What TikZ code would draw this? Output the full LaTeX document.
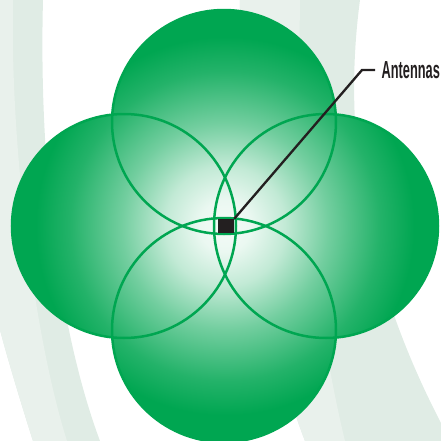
\documentclass[tikz,border=0pt]{standalone}
\usepackage{fontspec}
\setmainfont{Liberation Sans}
\newfontfamily\tagfont[FakeStretch=0.52]{Liberation Sans}
\usetikzlibrary{positioning}

\definecolor{cellgreen}{RGB}{0,166,81}
\definecolor{bandlight}{RGB}{233,241,236}
\definecolor{banddark}{RGB}{224,236,229}
\definecolor{antblack}{RGB}{35,31,32}

\pgfdeclareradialshading{cellglow}{\pgfpoint{0bp}{0bp}}{color(0bp)=(cellgreen!4); color(3bp)=(cellgreen!8); color(7bp)=(cellgreen!24); color(12bp)=(cellgreen!55); color(18bp)=(cellgreen!86); color(22bp)=(cellgreen); color(50bp)=(cellgreen)}

\begin{document}
\begin{tikzpicture}[
        x=0.03cm, y=-0.03cm,
        cell/.style={draw=cellgreen, line width=0.075cm},
        antenna/.style={rectangle, fill=antblack, inner sep=0pt, minimum width=0.48cm, minimum height=0.42cm},
        leader/.style={draw=antblack, line width=0.07cm},
        tag/.style={inner ysep=0pt, inner xsep=0.2cm, outer sep=0pt, font=\tagfont\bfseries\fontsize{21pt}{23pt}\selectfont, text=antblack}
    ]
    \useasboundingbox (0,0) rectangle (441,441);

    % Background bands
    \fill[banddark] (0,0) -- (43,0) .. controls (39,150) and (55,320) .. (100,441) -- (33,441) .. controls (20,400) and (8,360) .. (0,330) -- cycle;
    \fill[bandlight] (0,0) -- (13,0) .. controls (10,150) and (35,340) .. (67,441) -- (33,441) .. controls (20,400) and (8,360) .. (0,330) -- cycle;
    \fill[banddark] (240,0) -- (360,0) .. controls (340,150) and (372,290) .. (441,423) -- (441,441) -- (305,441) .. controls (262,330) and (236,150) .. (240,0) -- cycle;
    \fill[bandlight] (240,0) -- (300,0) .. controls (297,160) and (318,330) .. (345,441) -- (305,441) .. controls (262,330) and (236,150) .. (240,0) -- cycle;

    % Coverage cells
    \coordinate (ctop) at (224,122);
    \coordinate (cleft) at (124,226);
    \coordinate (cright) at (326,226);
    \coordinate (cbottom) at (224,330);
    \begin{scope}
        \clip (ctop) circle (112) (cleft) circle (112) (cright) circle (112) (cbottom) circle (112);
        \shade[shading=cellglow] (10,11) rectangle (440,441);
    \end{scope}
    \draw[cell] (ctop) circle (112);
    \draw[cell] (cleft) circle (112);
    \draw[cell] (cright) circle (112);
    \draw[cell] (cbottom) circle (112);

    % Antennas and label
    \node[antenna] (ant) at (226,226) {};
    \coordinate (bend) at (362,70);
    \node[tag, right=0.39cm of bend] (lbl) {Antennas};
    \draw[leader] (ant.north east) -- (bend) -- (lbl.west);

\end{tikzpicture}
\end{document}
